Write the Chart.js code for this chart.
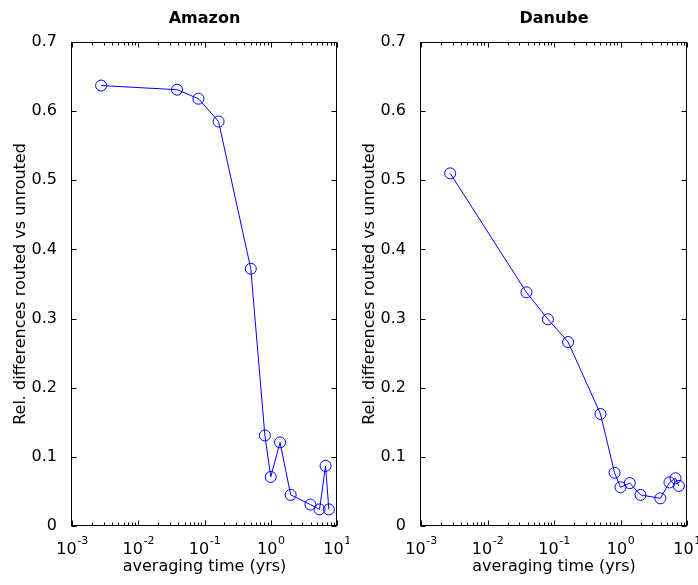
<!DOCTYPE html>
<html>
<head>
<meta charset="utf-8">
<script src="https://cdn.jsdelivr.net/npm/chart.js@4.4.1/dist/chart.umd.min.js"></script>
<style>
  html, body { margin: 0; padding: 0; background: #fff; }
  #wrap { position: relative; width: 698px; height: 585px; overflow: hidden; background: #fff; }
  .panel { position: absolute; top: 0; }
</style>
</head>
<body>
<div id="wrap">
  <div class="panel" style="left:0px;"><canvas id="c1" width="349" height="585"></canvas></div>
  <div class="panel" style="left:349px;"><canvas id="c2" width="349" height="585"></canvas></div>
</div>
<script>
// ---- data ----
const averagingTime = [0.00275, 0.0385, 0.081, 0.163, 0.5, 0.815, 1.0, 1.38, 2.0, 3.97, 5.45, 6.72, 7.53];
const amazonValues  = [0.637, 0.631, 0.618, 0.585, 0.372, 0.131, 0.071, 0.121, 0.045, 0.031, 0.024, 0.087, 0.024];
const danubeValues  = [0.510, 0.338, 0.299, 0.266, 0.162, 0.077, 0.056, 0.062, 0.045, 0.040, 0.063, 0.069, 0.058];
const panelTitles   = ['Amazon', 'Danube'];
const yTickValues   = [0, 0.1, 0.2, 0.3, 0.4, 0.5, 0.6, 0.7];
const xTickExponents = [-3, -2, -1, 0, 1];
const xAxisTitle = 'averaging time (yrs)';
const yAxisTitle = 'Rel. differences routed vs unrouted';

Chart.defaults.font.family = "'DejaVu Sans', sans-serif";
Chart.defaults.font.size = 16;
Chart.defaults.color = '#000';

const FONT = "'DejaVu Sans', sans-serif";

const matlabAxes = {
  id: 'matlabAxes',
  afterDraw(chart) {
    const {ctx, chartArea: a, scales: {x, y}} = chart;
    ctx.save();
    ctx.strokeStyle = '#000';
    ctx.lineWidth = 1;
    const L = Math.round(a.left) - 0.5, R = Math.round(a.right) - 0.5;
    const T = Math.round(a.top) + 0.5, B = Math.round(a.bottom) - 0.5;
    ctx.strokeRect(L, T, R - L, B - T);
    ctx.beginPath();
    yTickValues.forEach(v => {
      const py = Math.round(y.getPixelForValue(v)) + 0.5;
      ctx.moveTo(L, py); ctx.lineTo(L + 5, py);
      ctx.moveTo(R, py); ctx.lineTo(R - 5, py);
    });
    const eMin = xTickExponents[0], eMax = xTickExponents[xTickExponents.length - 1];
    for (let e = eMin; e <= eMax; e++) {
      for (let m = 1; m <= 9; m++) {
        if (e === eMax && m > 1) break;
        const px = Math.round(x.getPixelForValue(m * Math.pow(10, e))) + 0.5;
        const len = m === 1 ? 5 : 3;
        ctx.moveTo(px, B); ctx.lineTo(px, B - len);
        ctx.moveTo(px, T); ctx.lineTo(px, T + len);
      }
    }
    ctx.stroke();
    // x tick labels 10^e with raised exponent
    ctx.fillStyle = '#000';
    ctx.textBaseline = 'alphabetic';
    ctx.textAlign = 'left';
    xTickExponents.forEach(e => {
      const px = x.getPixelForValue(Math.pow(10, e));
      const base = '10', exp = String(e);
      ctx.font = '16px ' + FONT;
      const wb = ctx.measureText(base).width;
      ctx.font = '11px ' + FONT;
      const we = ctx.measureText(exp).width;
      const start = px - (wb + we) / 2;
      ctx.font = '16px ' + FONT;
      ctx.fillText(base, start, 554);
      ctx.font = '11px ' + FONT;
      ctx.fillText(exp, start + wb + 0.5, 543.5);
    });
    ctx.restore();
  }
};

function makeChart(id, title, values, padRight) {
  return new Chart(document.getElementById(id), {
    type: 'line',
    data: {
      datasets: [{
        data: averagingTime.map((t, i) => ({x: t, y: values[i]})),
        borderColor: '#0000ff',
        borderWidth: 1,
        pointStyle: 'circle',
        pointRadius: 5.5,
        pointBorderWidth: 1,
        pointBorderColor: '#0000ff',
        pointBackgroundColor: 'rgba(0,0,0,0)',
        fill: false,
        tension: 0,
        clip: false
      }]
    },
    options: {
      responsive: false,
      animation: false,
      devicePixelRatio: 1,
      layout: { padding: { left: 0, top: 0, right: padRight, bottom: 0 } },
      plugins: {
        legend: { display: false },
        tooltip: { enabled: false },
        title: {
          display: true,
          text: title,
          fullSize: false,
          color: '#000',
          font: { size: 16, weight: 'bold', family: FONT },
          padding: { top: 9.4, bottom: 13.4 }
        }
      },
      scales: {
        x: {
          type: 'logarithmic',
          min: 0.001,
          max: 10,
          grid: { display: false },
          border: { display: false },
          ticks: { display: false },
          title: {
            display: true,
            text: xAxisTitle,
            color: '#000',
            font: { size: 16, family: FONT },
            padding: { top: 0, bottom: 8.4 }
          },
          afterFit(scale) { scale.height = 59; scale.paddingLeft = 0; scale.paddingRight = 0; }
        },
        y: {
          type: 'linear',
          min: 0,
          max: 0.7,
          grid: { display: false },
          border: { display: false },
          ticks: {
            stepSize: 0.1,
            padding: 7,
            color: '#000',
            font: { size: 16, family: FONT },
            callback: v => String(+v.toFixed(1))
          },
          title: {
            display: true,
            text: yAxisTitle,
            color: '#000',
            font: { size: 16, family: FONT },
            padding: { top: 11.4, bottom: 0 }
          },
          afterFit(scale) { scale.width = 72; scale.paddingTop = 0; scale.paddingBottom = 0; }
        }
      }
    },
    plugins: [matlabAxes]
  });
}

makeChart('c1', panelTitles[0], amazonValues, 12);
makeChart('c2', panelTitles[1], danubeValues, 11);
</script>
</body>
</html>
